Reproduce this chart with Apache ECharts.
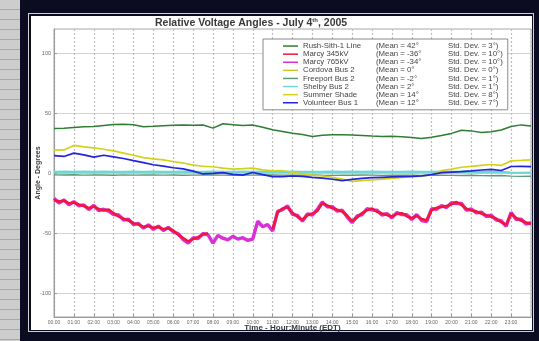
<!DOCTYPE html>
<html>
<head>
<meta charset="utf-8">
<script src="https://cdn.jsdelivr.net/npm/echarts@6/dist/echarts.min.js"></script>
<style>
html,body{margin:0;padding:0;width:539px;height:341px;overflow:hidden;background:#0b0b22;}
#strip{position:absolute;left:0;top:0;width:20px;height:341px;background-color:#cdcdcd;
background-image:repeating-linear-gradient(to bottom,#cdcdcd 0px,#cdcdcd 9px,#a9a9a9 9px,#a9a9a9 10px);}
#outline{position:absolute;left:28px;top:13px;width:506px;height:319px;border:1px solid #d0d0d0;box-sizing:border-box;}
#white{position:absolute;left:31px;top:16px;width:501px;height:314px;background:#fff;}
#chart{position:absolute;left:0;top:0;width:539px;height:341px;}
</style>
</head>
<body>
<div id="strip"></div>
<div id="outline"></div>
<div id="white"></div>
<div id="chart"></div>
<script>
// ---- data (hours since midnight, degrees) ----
const seriesNames = ['Rush-Sith-1 Line','Marcy 345kV','Marcy 765kV','Cordova Bus 2','Freeport Bus 2','Shelby Bus 2','Summer Shade','Volunteer Bus 1'];
const meanLabels = ['(Mean = 42°','(Mean = -36°','(Mean = -34°','(Mean = 0°','(Mean = -2°','(Mean = 2°','(Mean = 14°','(Mean = 12°'];
const stdLabels = ['Std. Dev. = 3°)','Std. Dev. = 10°)','Std. Dev. = 10°)','Std. Dev. = 0°)','Std. Dev. = 1°)','Std. Dev. = 1°)','Std. Dev. = 8°)','Std. Dev. = 7°)'];
const hourTicks = ['00:00','01:00','02:00','03:00','04:00','05:00','06:00','07:00','08:00','09:00','10:00','11:00','12:00','13:00','14:00','15:00','16:00','17:00','18:00','19:00','20:00','21:00','22:00','23:00'];
const yTicks = [-100,-50,0,50,100];

const timesHalf = [0,0.5,1,1.5,2,2.5,3,3.5,4,4.5,5,5.5,6,6.5,7,7.5,8,8.5,9,9.5,10,10.5,11,11.5,12,12.5,13,13.5,14,14.5,15,15.5,16,16.5,17,17.5,18,18.5,19,19.5,20,20.5,21,21.5,22,22.5,23,23.5,24];
const timesQuarter = [0,0.25,0.5,0.75,1,1.25,1.5,1.75,2,2.25,2.5,2.75,3,3.25,3.5,3.75,4,4.25,4.5,4.75,5,5.25,5.5,5.75,6,6.25,6.5,6.75,7,7.25,7.5,7.75,8,8.25,8.5,8.75,9,9.25,9.5,9.75,10,10.25,10.5,10.75,11,11.25,11.5,11.75,12,12.25,12.5,12.75,13,13.25,13.5,13.75,14,14.25,14.5,14.75,15,15.25,15.5,15.75,16,16.25,16.5,16.75,17,17.25,17.5,17.75,18,18.25,18.5,18.75,19,19.25,19.5,19.75,20,20.25,20.5,20.75,21,21.25,21.5,21.75,22,22.25,22.5,22.75,23,23.25,23.5,23.75,24];

const rushSith = [37.0,37.3,38.0,38.6,38.7,39.6,40.4,40.7,40.2,38.6,
  38.9,39.4,39.8,40.1,39.7,40.0,37.4,41.0,40.3,39.5,
  40.0,38.2,36.0,34.6,33.2,32.0,30.4,31.5,31.8,31.9,
  31.6,31.3,30.8,30.4,30.7,30.3,29.6,28.8,29.8,31.2,
  33.0,35.6,35.1,33.7,34.4,35.9,38.8,40.1,39.2];
const marcy345 = [-22.5,-23.8,-23.1,-25.4, -24.6,-26.2,-27.5,-29.3, -27.8,-30.1,-31.2,-30.4, -33.5,-36.1,-38.0,-39.6,
  -41.8,-43.0,-44.9,-44.1, -45.7,-45.0,-46.8,-46.1, -47.9,-51.5,-54.2,-57.0, -55.1,-53.4,-51.2,-50.3,
  null,null,null,null, null,null,null,null, null,null,null,null,
  -47.0,-33.0,-29.5,-28.6, -33.2,-36.5,-39.0,-35.2, -33.8,-31.5,-25.3,-27.0, -29.2,-30.6,-32.1,-35.5,
  -40.2,-37.0,-33.4,-31.0, -29.6,-32.3,-33.8,-35.0, -36.2,-34.1,-33.5,-36.0, -37.6,-35.8,-38.4,-39.3,
  -31.0,-29.0,-28.3,-27.6, -26.0,-24.2,-26.5,-29.8, -31.2,-32.0,-33.8,-35.1, -36.4,-38.0,-41.0,-43.2,
  -34.0,-37.5,-39.6,-41.3, -42.6];
const marcy765 = [-21.0,-25.0,-22.4,-26.5, -23.8,-27.4,-26.6,-30.5, -26.9,-31.4,-30.2,-31.8, -34.6,-35.0,-39.2,-38.5,
  -43.1,-42.0,-46.0,-43.2, -47.0,-44.2,-47.9,-45.3, -49.0,-50.6,-55.5,-58.4, -54.0,-54.6,-50.4,-51.6,
  -58.5,-52.0,-54.3,-55.8, -52.7,-55.1,-53.9,-56.2, -55.0,-40.2,-44.8,-42.9,
  -48.3,-32.0,-30.6,-27.4, -34.5,-35.3,-40.2,-34.1, -35.0,-30.4,-24.1,-28.2, -28.0,-31.8,-31.0,-36.7,
  -41.4,-35.8,-34.6,-29.8, -30.8,-31.1,-35.0,-33.8, -37.4,-33.0,-34.7,-34.8, -38.8,-34.6,-39.6,-40.5,
  -29.8,-30.2,-27.1,-28.8, -24.8,-25.4,-25.3,-31.0, -30.0,-33.2,-32.6,-36.3, -35.2,-39.2,-39.8,-44.4,
  -32.8,-38.7,-38.4,-42.5, -41.4];
const cordova = [0.2,0.1,0.3,0.2,0.1,0.2,0.3,0.1,0.2,0.2,
  0.1,0.3,0.2,0.1,0.2,0.3,0.2,0.1,0.2,0.2,
  0.3,0.1,0.2,0.2,0.1,0.3,0.2,0.2,0.1,0.2,
  0.3,0.2,0.1,0.2,0.2,0.3,0.1,0.2,0.2,0.1,
  0.2,0.3,0.2,0.1,0.2,0.2,0.1,0.2,0.2];
const freeport = [-1.6,-1.7,-1.5,-1.8,-1.6,-1.7,-1.9,-1.6,-1.8,-1.7,
  -1.6,-1.8,-1.7,-1.9,-1.8,-1.6,-1.7,-1.8,-1.9,-1.7,
  -1.8,-1.6,-1.7,-1.8,-1.9,-1.8,-1.7,-1.9,-2.0,-1.8,
  -1.9,-1.7,-1.8,-2.0,-1.9,-1.8,-1.9,-2.0,-1.8,-1.9,
  -2.0,-2.1,-1.9,-2.2,-2.3,-2.1,-2.6,-2.8,-2.7];
const shelby = [1.0,1.1,0.9,1.2,1.0,1.1,1.0,0.9,1.1,1.0,
  1.2,1.0,0.9,1.1,1.0,1.0,1.1,0.9,1.0,1.2,
  1.0,1.1,0.9,1.0,1.1,1.0,1.0,0.9,1.1,1.0,
  1.2,1.0,1.1,0.9,1.0,1.0,1.1,1.0,0.9,1.1,
  1.0,1.2,1.0,1.1,1.0,0.9,0.4,0.2,0.3];
const summerShade = [19.0,19.2,23.0,21.8,21.0,19.8,18.4,16.6,14.8,12.8,
  11.7,10.9,9.6,8.3,6.6,5.6,5.2,4.1,3.3,3.6,
  4.0,2.6,1.8,1.9,0.6,-0.8,-1.7,-2.5,-3.6,-5.1,
  -7.0,-6.4,-5.8,-5.1,-4.4,-3.7,-3.1,-2.6,-1.6,2.0,
  3.3,4.8,5.5,6.3,7.1,6.3,10.1,10.5,11.0];
const volunteer = [14.4,13.8,16.6,15.1,13.2,14.8,13.5,12.1,10.3,8.7,
  6.9,5.8,4.4,3.4,1.6,-0.8,-0.3,0.3,-1.2,-1.8,
  0.4,-1.3,-3.0,-3.1,-2.5,-2.8,-3.6,-4.3,-5.2,-6.4,
  -5.3,-4.4,-3.9,-3.6,-3.3,-3.0,-2.8,-2.4,-1.4,0.3,
  0.8,1.1,1.7,2.5,3.0,2.1,5.4,5.5,5.3];

// ---- build ----
const FONT = '"Liberation Sans", Arial, sans-serif';
function pairs(t, v){ return t.map((x,i)=>[x, v[i]]); }
const defs = [
  {name:seriesNames[0], t:timesHalf, v:rushSith, color:'#2e7d32', w:1.5, z:3},
  {name:seriesNames[1], t:timesQuarter, v:marcy345, color:'#f2153c', w:2.6, z:5},
  {name:seriesNames[2], t:timesQuarter, v:marcy765, color:'#d630d6', w:3.4, z:4},
  {name:seriesNames[3], t:timesHalf, v:cordova, color:'#c9c72a', w:1.2, z:2},
  {name:seriesNames[4], t:timesHalf, v:freeport, color:'#5c9a78', w:1.4, z:2},
  {name:seriesNames[5], t:timesHalf, v:shelby, color:'#6fd6d6', w:2.2, z:2},
  {name:seriesNames[6], t:timesHalf, v:summerShade, color:'#d2d21e', w:1.7, z:3},
  {name:seriesNames[7], t:timesHalf, v:volunteer, color:'#2424dc', w:1.7, z:3}
];
const series = defs.map(d => ({
  name:d.name, type:'line', data:pairs(d.t, d.v), showSymbol:false, symbol:'none',
  connectNulls:false, z:d.z, animation:false,
  lineStyle:{color:d.color, width:d.w}, itemStyle:{color:d.color}
}));

const LF = 7.8;
const chart = echarts.init(document.getElementById('chart'), null, {renderer:'canvas'});
chart.setOption({
  backgroundColor:'transparent',
  animation:false,
  textStyle:{fontFamily:FONT},
  title:{
    text:'{a|Relative Voltage Angles - July 4}{s|th}{a|, 2005}',
    left:150, top:12,
    textStyle:{rich:{
      a:{fontSize:10.5, fontWeight:'bold', color:'#3a3a3a', fontFamily:FONT},
      s:{fontSize:6, fontWeight:'bold', color:'#3a3a3a', fontFamily:FONT, padding:[0,0,6,0]}
    }}
  },
  grid:{left:54, right:8, top:29, bottom:24, show:true, borderColor:'#a8a8a8', borderWidth:1, containLabel:false},
  legend:{
    orient:'vertical', left:263, top:39,
    padding:[3,5,3,20], itemGap:0, itemWidth:15, itemHeight:1.5,
    icon:'rect',
    backgroundColor:'#fff', borderColor:'#8a8a8a', borderWidth:1,
    data:seriesNames,
    formatter:function(name){
      const i = seriesNames.indexOf(name);
      return '{n|' + name + '}{m|' + meanLabels[i] + '}{s|' + stdLabels[i] + '}';
    },
    textStyle:{
      fontSize:LF, color:'#444', fontFamily:FONT, lineHeight:8.1,
      rich:{
        n:{width:73, fontSize:LF, color:'#444', fontFamily:FONT, lineHeight:8.1},
        m:{width:72, fontSize:LF, color:'#444', fontFamily:FONT, lineHeight:8.1},
        s:{fontSize:LF, color:'#444', fontFamily:FONT, lineHeight:8.1}
      }
    }
  },
  xAxis:{
    type:'value', min:0, max:24, interval:1,
    name:'Time - Hour:Minute (EDT)', nameLocation:'middle', nameGap:7, nameMoveOverlap:false,
    nameTextStyle:{fontSize:8, fontWeight:'bold', color:'#3a3a3a', fontFamily:FONT},
    axisLine:{show:true, onZero:false, lineStyle:{color:'#999'}},
    axisTick:{show:true, inside:true, length:3, lineStyle:{color:'#999'}},
    axisLabel:{fontSize:5, color:'#666', margin:3, showMaxLabel:false,
      formatter:function(v){ return v < 24 ? hourTicks[Math.round(v)] : ''; }},
    splitLine:{show:true, lineStyle:{color:'#bdbdbd', type:[2,2], width:1.2}}
  },
  yAxis:{
    type:'value', min:-120, max:120,
    name:'Angle - Degrees', nameLocation:'middle', nameGap:12, nameMoveOverlap:false,
    nameTextStyle:{fontSize:7, fontWeight:'bold', color:'#3a3a3a', fontFamily:FONT},
    axisLine:{show:true, lineStyle:{color:'#999'}},
    axisTick:{show:true, inside:true, length:3, customValues:yTicks, lineStyle:{color:'#999'}},
    axisLabel:{fontSize:5.5, color:'#666', margin:3, customValues:yTicks},
    splitLine:{show:true, lineStyle:{color:'#d2d2d2', width:1}}
  },
  series:series
});
</script>
</body>
</html>
